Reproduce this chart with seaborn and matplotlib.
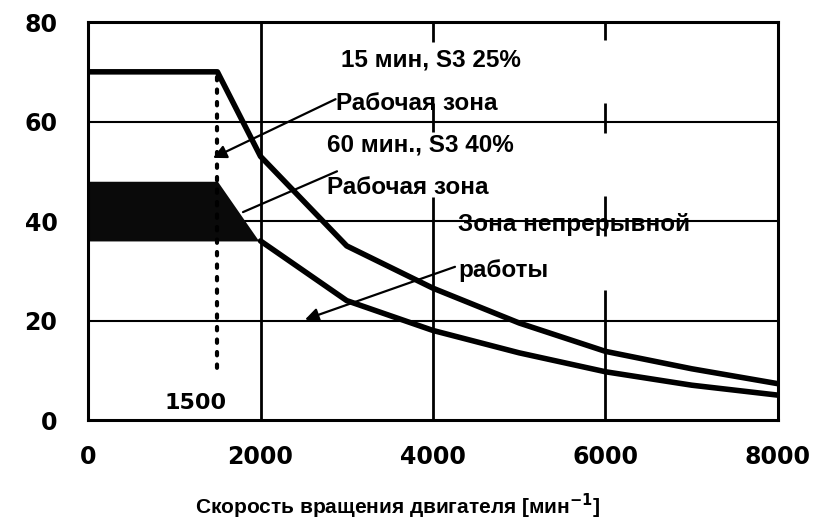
import numpy as np
import pandas as pd
import seaborn as sns
import matplotlib.pyplot as plt

# данные
rpm_s3_25 = [0, 1500, 2000, 3000, 4000, 5000, 6000, 7000, 8000]
power_s3_25 = [70, 70, 53, 35, 26.5, 19.5, 13.8, 10.3, 7.3]
rpm_cont = [2000, 3000, 4000, 5000, 6000, 7000, 8000]
power_cont = [36, 24, 18, 13.5, 9.7, 7.0, 5.0]
# зона S3 40% (заштрихованная)
zone_rpm = [0, 1500, 1980]
zone_top = [48, 48, 36]
zone_bottom = [36, 36, 36]

x_ticks = [0, 2000, 4000, 6000, 8000]
y_ticks = [0, 20, 40, 60, 80]

sns.set_style('white')
plt.rcParams['font.family'] = ['Liberation Sans', 'DejaVu Sans']
plt.rcParams['text.color'] = 'k'
plt.rcParams['axes.labelcolor'] = 'k'
plt.rcParams['xtick.color'] = 'k'
plt.rcParams['ytick.color'] = 'k'

fig = plt.figure(figsize=(8.25, 5.26), dpi=100)
ax = fig.add_axes([0.1067, 0.2015, 0.8363, 0.7565])

df_upper = pd.DataFrame({'rpm': rpm_s3_25, 'power': power_s3_25})
df_lower = pd.DataFrame({'rpm': rpm_cont, 'power': power_cont})

# сетка: горизонтальные линии целиком, вертикальные местами прерываются
for y in y_ticks[1:-1]:
    ax.axhline(y, color='k', lw=1.5, zorder=1)
ax.axvline(2000, color='k', lw=2.0, zorder=1)
ax.vlines([4000, 4000, 4000], [76, 58, 0], [80, 63.7, 44.8], color='k', lw=2.0, zorder=1)
ax.vlines([6000, 6000, 6000, 6000], [76.4, 57.7, 37, 0], [80, 63.7, 45, 26.1],
          color='k', lw=2.0, zorder=1)

ax.fill_between(zone_rpm, zone_bottom, zone_top, color='#0a0a0a', lw=0, zorder=2)

sns.lineplot(data=df_upper, x='rpm', y='power', color='k', lw=4, ax=ax, zorder=3)
sns.lineplot(data=df_lower, x='rpm', y='power', color='k', lw=4, ax=ax, zorder=3)

# пунктир на 1500
ax.plot([1500, 1500], [69, 9], color='k', lw=3, ls=(0, (0.8, 2.2)), dash_capstyle='round', zorder=2)
ax.text(1250, 3.4, '1500', ha='center', va='center', fontsize=16,
        family='DejaVu Sans', weight='bold')

tkw = dict(fontsize=17.5, weight='bold', va='center', ha='left')
ax.text(2930, 72.4, '15 мин, S3 25%', **tkw)
ax.text(2880, 63.7, 'Рабочая зона', **tkw)
ax.text(2770, 55.3, '60 мин., S3 40%', **tkw)
ax.text(2770, 46.8, 'Рабочая зона', **tkw)
ax.text(4290, 39.4, 'Зона непрерывной', **tkw)
ax.text(4290, 30.0, 'работы', **tkw)

akw = dict(arrowstyle='-|>', lw=1.6, color='k', mutation_scale=20, shrinkA=0, shrinkB=0)
ax.annotate('', xy=(1449, 52.7), xytext=(2870, 64.5), arrowprops=akw)
ax.annotate('', xy=(2516, 20.2), xytext=(4255, 30.8), arrowprops=akw)
ax.plot([2887, 1797], [50, 41.8], color='k', lw=1.6, zorder=2)

ax.set_xlim(0, 8000)
ax.set_ylim(0, 80)
ax.set_xticks(x_ticks)
ax.set_yticks(y_ticks)
ax.set_xticklabels([str(v) for v in x_ticks], family='DejaVu Sans', weight='bold', fontsize=17)
ax.set_yticklabels([str(v) for v in y_ticks], family='DejaVu Sans', weight='bold', fontsize=17)
ax.tick_params(axis='x', length=0, pad=18)
ax.tick_params(axis='y', length=0, pad=22)
for s in ax.spines.values():
    s.set_color('k')
    s.set_linewidth(2.2)
ax.set_ylabel('')
ax.set_xlabel('Скорость вращения двигателя [мин$^{\\mathbf{-1}}$]', fontsize=15, weight='bold',
              family=['Liberation Sans', 'DejaVu Sans'])
ax.xaxis.set_label_coords(0.449, -0.18)

fig.savefig('out.png', dpi=100)
